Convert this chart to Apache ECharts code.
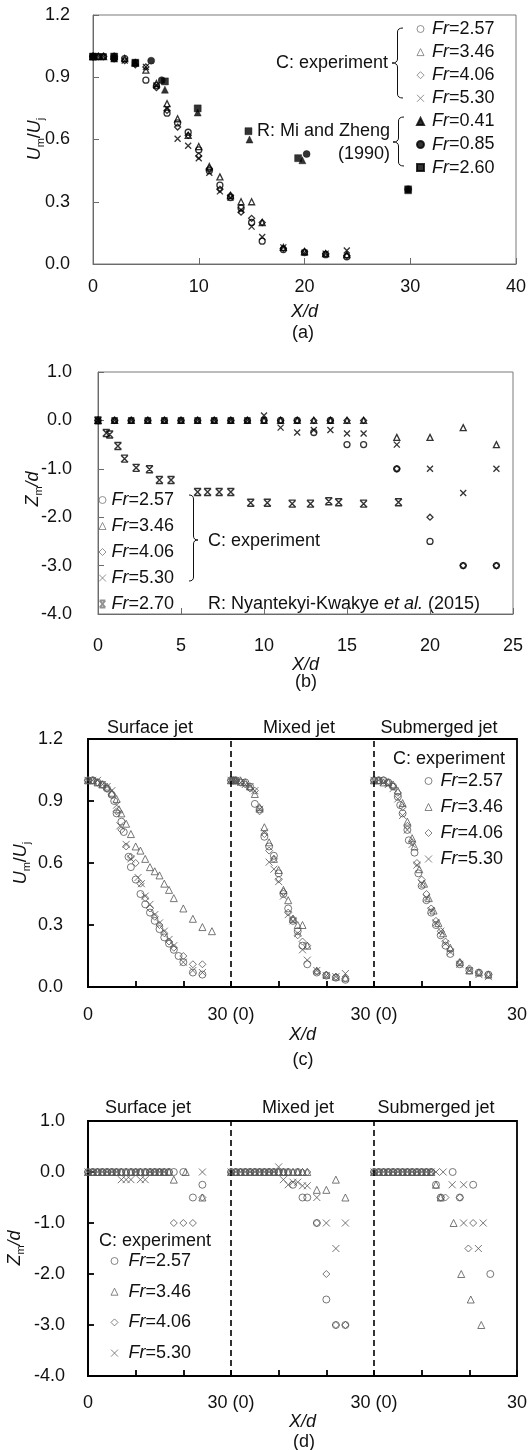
<!DOCTYPE html>
<html><head><meta charset="utf-8">
<script src="https://cdn.jsdelivr.net/npm/echarts@6/dist/echarts.min.js"></script>
<style>html,body{margin:0;padding:0;background:#fff}#c{width:532px;height:1450px}</style>
</head><body><div id="c"></div>
<script>
// ---------- Panel (a): Um/Uj vs X/d ----------
const aX   = [0,0.5,1,2,3,4,5,6,7,8,9,10,11,12,13,14,15,16,18,20,22,24];
const a257 = [1,1,1,0.99,0.99,0.97,0.886,0.86,0.727,0.68,0.635,0.55,0.45,0.38,0.32,0.27,0.20,0.11,0.07,0.055,0.045,0.035];
const a346 = [1,1,1,1,0.99,0.97,0.934,0.87,0.773,0.70,0.62,0.566,0.47,0.42,0.33,0.30,0.30,0.20,0.08,0.06,0.05,0.045];
const a406 = [1,1,1,0.99,0.98,0.96,0.95,0.85,0.74,0.66,0.62,0.52,0.46,0.36,0.33,0.25,0.22,0.20,0.075,0.06,0.05,0.04];
const a530 = [1,1,1,0.99,0.98,0.97,0.95,0.86,0.749,0.604,0.57,0.51,0.44,0.35,0.32,0.26,0.18,0.13,0.08,0.055,0.05,0.065];
const mzX041 = [0,2,4,6.8,9.9,14.8,19.8,29.8];
const mz041  = [1,0.99,0.97,0.84,0.73,0.60,0.50,0.355];
const mzX085 = [0,2,5.5,6.5,20.2,29.8];
const mz085  = [1,1,0.98,0.886,0.53,0.36];
const mzX260 = [0,2,4,6.8,9.9,14.7,19.4,29.8];
const mz260  = [1,1,0.97,0.88,0.75,0.64,0.51,0.36];
// ---------- Panel (b): Zm/d vs X/d ----------
const bX   = [0,1,2,3,4,5,6,7,8,9,10,11,12,13,14,15,16,18,20,22,24];
const b257 = [0,0,0,0,0,0,0,0,0,0,0,0,0,-0.25,0,-0.5,-0.5,-1.0,-2.5,-3.0,-3.0];
const b346 = [0,0,0,0,0,0,0,0,0,0,0,0,0,0,0,0,0,-0.35,-0.35,-0.15,-0.5];
const b406 = [0,0,0,0,0,0,0,0,0,0,0,0,0,0,0,0,0,-1.0,-2.0,-3.0,-3.0];
const b530 = [0,0,0,0,0,0,0,0,0,0,0.1,-0.15,-0.25,-0.2,-0.2,-0.27,-0.27,-0.5,-1.0,-1.5,-1.0];
const bRefX = [0,0.5,0.7,1.2,1.6,2.3,3.1,3.7,4.4,6.0,6.6,7.3,8.0,9.2,10.2,11.7,12.8,13.9,14.5,16.0,18.1];
const bRefZ = [0,-0.26,-0.29,-0.53,-0.79,-0.98,-1.01,-1.23,-1.23,-1.48,-1.48,-1.48,-1.48,-1.70,-1.70,-1.72,-1.72,-1.67,-1.69,-1.72,-1.69];
// ---------- Panel (c): Um/Uj, three jets ----------
const cSurfX257 = [0,1,2,3,4,5,5.5,6,7,7.5,8.5,9,10,11,12,13,14,15,16,17,18,19,20,22,24];
const cSurf257  = [1,1,0.99,0.98,0.96,0.93,0.90,0.84,0.80,0.75,0.63,0.58,0.52,0.45,0.40,0.36,0.32,0.28,0.24,0.21,0.18,0.15,0.12,0.07,0.06];
const cSurfX346 = [0,1,2,3,4,5,6,6.5,7,8,9,10,11,12,13,14,15,16,17,18,20,22,24,26];
const cSurf346  = [1,1,0.99,0.98,0.97,0.94,0.91,0.86,0.84,0.79,0.74,0.68,0.66,0.62,0.58,0.56,0.54,0.50,0.47,0.43,0.38,0.33,0.29,0.27];
const cSurfX406 = [0,1,2,3,4,5,6,7,8,9,10,11,12,13,14,15,16,17,18,20,22,24];
const cSurf406  = [1,1,0.99,0.98,0.96,0.93,0.85,0.76,0.68,0.63,0.60,0.50,0.43,0.38,0.34,0.30,0.26,0.22,0.19,0.15,0.11,0.11];
const cSurfX530 = [0,1,2,3,4,5,6,6.7,8,9,10.5,11.2,12,13,14,15,16,17,18,20,22,24];
const cSurf530  = [1,1,1,0.98,0.97,0.95,0.88,0.78,0.69,0.62,0.53,0.50,0.44,0.40,0.35,0.31,0.27,0.23,0.20,0.12,0.08,0.07];
const cSubX257 = [0,1,2,3,4,5,5.5,6,7,7.3,8.5,9.3,10,11,12,13,14,15,16,18,20,22,24];
const cSub257  = [1,1,1,0.99,0.97,0.92,0.88,0.84,0.76,0.71,0.65,0.55,0.49,0.42,0.36,0.30,0.25,0.20,0.16,0.11,0.08,0.07,0.06];
const cSubX346 = [0,1,2,3,4,5,6,7,8,8.5,9.5,10.5,11.5,12.5,13.5,14.5,16,18,20,22,24];
const cSub346  = [1,1,0.99,0.99,0.98,0.95,0.89,0.80,0.72,0.68,0.57,0.50,0.43,0.37,0.31,0.26,0.19,0.12,0.08,0.07,0.06];
const cSubX406 = [0,1,2,3,4,5,6,7,8,9,10,11,12,13,14,15,16,18,20,22,24];
const cSub406  = [1,1,1,0.99,0.97,0.94,0.87,0.78,0.70,0.60,0.52,0.45,0.38,0.32,0.27,0.22,0.18,0.12,0.09,0.07,0.06];
const cSubX530 = [0,1,2,3,4,5,6,7,8,9,10,11,12,13,14,15,16,18,20,22,24];
const cSub530  = [1,1,0.99,0.98,0.96,0.91,0.83,0.76,0.69,0.59,0.50,0.43,0.37,0.31,0.27,0.21,0.17,0.11,0.08,0.06,0.05];
// ---------- Panel (d): Zm/d, three jets ----------
const dSurfX257 = [0,1,2,3,4,5,6,7,8,9,10,11,12,13,14,15,16,17,18,20,22,24];
const dSurf257  = [0,0,0,0,0,0,0,0,0,0,0,0,0,0,0,0,0,0,0,0,-0.5,-0.25];
const dSurfX346 = [0,1,2,3,4,5,6,7,8,9,10,11,12,13,14,15,16,17,18,20.5,24];
const dSurf346  = [0,0,0,0,0,0,0,0,0,0,0,0,0,0,0,0,0,0,-0.15,0,-0.5];
const dSurfX406 = [0,1,2,3,4,5,6,7,8,9,10,11,12,13,14,15,16,17,18,20,22,24];
const dSurf406  = [0,0,0,0,0,0,0,0,0,0,0,0,0,0,0,0,0,0,-1,-1,-1,-0.5];
const dSurfX530 = [0,1,2,3,4,5,6,7,8,9,10,11,12,13,14,15,16,24];
const dSurf530  = [0,0,0,0,0,0,0,-0.15,-0.15,-0.15,0,-0.15,-0.15,0,0,0,0,0];
const dSubX257 = [0,1,2,3,4,5,6,7,8,9,10,11,12,13,14,16.5,18,20.8,24.4];
const dSub257  = [0,0,0,0,0,0,0,0,0,0,0,0,0,-0.25,-0.5,0,-0.5,-0.25,-2.0];
const dSubX346 = [0,1,2,3,4,5,6,7,8,9,10,11,12,13,14,16.7,18.3,20.3,22.5];
const dSub346  = [0,0,0,0,0,0,0,0,0,0,0,0,0,-0.25,-0.5,-1.0,-2.0,-2.5,-3.0];
const dSubX406 = [0,1,2,3,4,5,6,7,8,9,10,11,12,14,15,18,19.8,20.8];
const dSub406  = [0,0,0,0,0,0,0,0,0,0,0,0,0,-0.5,-0.5,-0.5,-1.5,-1.0];
const dSubX530 = [0,1,2,3,4,5,6,7,8,9,10,11,12,13,14.5,16.4,18.8,18.8,21.9,22.9];
const dSub530  = [0,0,0,0,0,0,0,0,0,0,0,0,0,0,0,-0.25,-0.25,-1.0,-1.5,-1.0];
// segment offsets for (c)/(d): surface, mixed, submerged
const segOffsets = [0,30,60];
const segBounds  = [30,60];
const cdTickVals = [0,30,60,90];
const cdTickText = ['0','30 (0)','30 (0)','30'];

const FONT = '"Liberation Sans", Arial, sans-serif';
const TXT = '#111';
const SYM = {
  c:'circle', t:'triangle', d:'diamond', r:'rect',
  x:'path://M0,0L10,10M10,0L0,10',
  h:'path://M1,0L9,0M1,10L9,10M1,0L9,10M9,0L1,10'
};
function pts(xs, ys, off){ return xs.map((x,i)=>[x+(off||0), ys[i]]); }
function sc(name, g, data, sym, o){
  o = o || {};
  const filled = !!o.filled;
  const col = o.color || '#000';
  return {
    type:'scatter', name:name, xAxisIndex:g, yAxisIndex:g, data:data,
    symbol:SYM[sym], symbolSize:o.size||6, silent:true,
    itemStyle: filled ? {color:col, borderColor:col, borderWidth:(sym==='x'||sym==='h')?1.4:0.5}
                      : {color:'rgba(255,255,255,0)', borderColor:col, borderWidth:o.bw||1.3},
    z: o.z || 2
  };
}
const titleRich = {
  i:{fontStyle:'italic', fontSize:18, fontFamily:FONT, fill:TXT, color:TXT, lineHeight:22},
  n:{fontSize:18, fontFamily:FONT, fill:TXT, color:TXT, lineHeight:22},
  s:{fontSize:11, fontFamily:FONT, fill:TXT, color:TXT, lineHeight:12, verticalAlign:'bottom'}
};
const nameU = '{i|U}{s|m}{n|/}{i|U}{s|j}';
const nameZ = '{i|Z}{s|m}{i|/d}';

function xAx(g, min, max, interval, margin, nameGap, frame, fmt){
  const c = frame.color, w = frame.width;
  const o = {gridIndex:g, type:'value', min:min, max:max, interval:interval,
    axisLine:{show:true, onZero:false, lineStyle:{color:c, width:w}},
    axisTick:{show:true, inside:true, length:6, lineStyle:{color:c, width:w}},
    axisLabel:{margin:margin, fontSize:18, fontFamily:FONT, color:TXT, showMinLabel:true, showMaxLabel:true},
    splitLine:{show:false},
    name:'X/d', nameLocation:'middle', nameGap:nameGap,
    nameTextStyle:{fontStyle:'italic', fontSize:18, fontFamily:FONT, color:TXT}};
  if (fmt) o.axisLabel.formatter = fmt;
  return o;
}
function yAx(g, min, max, interval, margin, frame){
  const c = frame.color, w = frame.width;
  return {gridIndex:g, type:'value', min:min, max:max, interval:interval,
    axisLine:{show:true, onZero:false, lineStyle:{color:c, width:w}},
    axisTick:{show:true, inside:true, length:6, lineStyle:{color:c, width:w}},
    axisLabel:{margin:margin, fontSize:18, fontFamily:FONT, color:TXT, formatter:v=>v.toFixed(1), showMinLabel:true, showMaxLabel:true},
    splitLine:{show:false}};
}
const frAB = {color:'#6b6b6b', width:1};
const frCD = {color:'#000', width:1.8};
const cdFmt = v => { const i = cdTickVals.indexOf(v); return i>=0 ? cdTickText[i] : ''; };

function legendRich(sp){
  return {sp:{width:sp, fontSize:18, lineHeight:20},
          i:{fontStyle:'italic', fontSize:18, fontFamily:FONT, color:TXT, lineHeight:20},
          n:{fontSize:18, fontFamily:FONT, color:TXT, lineHeight:20}};
}
const legFmt = n => '{sp| }{i|Fr}{n|' + n.slice(2) + '}';
function leg(left, top, gap, sp, items){
  return {orient:'vertical', left:left, top:top, itemGap:gap, itemWidth:7, itemHeight:7, padding:0,
    selectedMode:false, formatter:legFmt, textStyle:{rich:legendRich(sp)}, data:items};
}
const openGray = c => ({color:'rgba(255,255,255,0)', borderColor:c, borderWidth:1});

function brace(xTip, xEnd, y0, y1, yTip){
  const xm = (xTip+xEnd)/2, r = 4;
  const st = {stroke:TXT, fill:null, lineWidth:1};
  const bz = (x1,y1,x2,y2,cx,cy) => ({type:'bezierCurve', silent:true, shape:{x1:x1,y1:y1,x2:x2,y2:y2,cpx1:cx,cpy1:cy}, style:st});
  const ln = (x1,y1,x2,y2) => ({type:'line', silent:true, shape:{x1:x1,y1:y1,x2:x2,y2:y2}, style:st});
  return {type:'group', silent:true, children:[
    bz(xEnd,y0,xm,y0+r,xm,y0),
    ln(xm,y0+r,xm,yTip-r),
    bz(xm,yTip-r,xTip,yTip,xm,yTip),
    bz(xTip,yTip,xm,yTip+r,xm,yTip),
    ln(xm,yTip+r,xm,y1-r),
    bz(xm,y1-r,xEnd,y1,xm,y1)
  ]};
}
function txt(t, x, y, align, extra){
  return {type:'text', silent:true, style:Object.assign({text:t, x:x, y:y, fill:TXT, fontSize:18, fontFamily:FONT,
    align:align, textAlign:align, verticalAlign:'middle', textVerticalAlign:'middle'}, extra||{})};
}
function ytitle(t, x, y){
  return {type:'text', silent:true, x:x, y:y, rotation:Math.PI/2,
    style:{text:t, x:0, y:0, align:'center', textAlign:'center', verticalAlign:'middle', textVerticalAlign:'middle',
      fontSize:18, fontFamily:FONT, fill:TXT, rich:titleRich}};
}

const series = [];
// (a)
series.push(sc('Fr=2.57',0,pts(aX,a257),'c'));
series.push(sc('Fr=3.46',0,pts(aX,a346),'t'));
series.push(sc('Fr=4.06',0,pts(aX,a406),'d'));
series.push(sc('Fr=5.30',0,pts(aX,a530),'x'));
series.push(sc('Fr=0.41',0,pts(mzX041,mz041),'t',{filled:true,size:7}));
series.push(sc('Fr=0.85',0,pts(mzX085,mz085),'c',{filled:true,size:7}));
series.push(sc('Fr=2.60',0,pts(mzX260,mz260),'r',{filled:true,size:7}));
// (b)
series.push(sc('Fr=2.57',1,pts(bX,b257),'c'));
series.push(sc('Fr=3.46',1,pts(bX,b346),'t'));
series.push(sc('Fr=4.06',1,pts(bX,b406),'d'));
series.push(sc('Fr=5.30',1,pts(bX,b530),'x'));
series.push(sc('Fr=2.70',1,pts(bRefX,bRefZ),'h',{filled:true,size:7}));
// (c)
const G = {color:'#555', size:7, bw:1};
const cSets = [
  [[cSurfX257,cSurf257],[aX,a257],[cSubX257,cSub257],'Fr=2.57','c'],
  [[cSurfX346,cSurf346],[aX,a346],[cSubX346,cSub346],'Fr=3.46','t'],
  [[cSurfX406,cSurf406],[aX,a406],[cSubX406,cSub406],'Fr=4.06','d'],
  [[cSurfX530,cSurf530],[aX,a530],[cSubX530,cSub530],'Fr=5.30','x']
];
cSets.forEach(s => {
  [0,1,2].forEach(k => series.push(sc(s[3],2,pts(s[k][0],s[k][1],segOffsets[k]),s[4],G)));
});
const dSets = [
  [[dSurfX257,dSurf257],[bX,b257],[dSubX257,dSub257],'Fr=2.57','c'],
  [[dSurfX346,dSurf346],[bX,b346],[dSubX346,dSub346],'Fr=3.46','t'],
  [[dSurfX406,dSurf406],[bX,b406],[dSubX406,dSub406],'Fr=4.06','d'],
  [[dSurfX530,dSurf530],[bX,b530],[dSubX530,dSub530],'Fr=5.30','x']
];
dSets.forEach(s => {
  [0,1,2].forEach(k => series.push(sc(s[3],3,pts(s[k][0],s[k][1],segOffsets[k]),s[4],G)));
});
// dashed segment separators
[2,3].forEach(g => series.push({type:'scatter', name:'sep'+g, xAxisIndex:g, yAxisIndex:g, data:[], silent:true,
  markLine:{silent:true, symbol:'none', label:{show:false}, animation:false,
    lineStyle:{color:'#000', width:1.6, type:[6,4]}, data:segBounds.map(v=>({xAxis:v}))}}));

const option = {
  animation:false,
  grid:[
    {left:93, top:15, width:423, height:249, show:true, borderColor:'#7a7a7a', borderWidth:1},
    {left:98, top:372, width:415, height:242, show:true, borderColor:'#7a7a7a', borderWidth:1},
    {left:88, top:739, width:429, height:248, show:true, borderColor:'#000', borderWidth:1.8},
    {left:88, top:1121, width:429, height:255, show:true, borderColor:'#000', borderWidth:1.8}
  ],
  xAxis:[
    xAx(0,0,40,10,14,39,frAB),
    xAx(1,0,25,5,23,35,frAB),
    xAx(2,0,90,10,19,39,frCD,cdFmt),
    xAx(3,0,90,10,18,35,frCD,cdFmt)
  ],
  yAxis:[
    yAx(0,0,1.2,0.3,23,frAB),
    yAx(1,-4,1,1,26,frAB),
    yAx(2,0,1.2,0.3,25,frCD),
    yAx(3,-4,1,1,23,frCD)
  ],
  legend:[
    leg(416,20,5.1,3,[
      {name:'Fr=2.57',itemStyle:openGray('#777')},{name:'Fr=3.46',itemStyle:openGray('#777')},
      {name:'Fr=4.06',itemStyle:openGray('#777')},{name:'Fr=5.30',itemStyle:openGray('#777')},
      {name:'Fr=0.41',itemStyle:{color:'#000',borderColor:'#000'}},{name:'Fr=0.85',itemStyle:{color:'#000',borderColor:'#000'}},
      {name:'Fr=2.60',itemStyle:{color:'#000',borderColor:'#000'}}]),
    leg(98.5,491,8,0.5,[
      {name:'Fr=2.57',itemStyle:openGray('#777')},{name:'Fr=3.46',itemStyle:openGray('#777')},
      {name:'Fr=4.06',itemStyle:openGray('#777')},{name:'Fr=5.30',itemStyle:openGray('#777')},
      {name:'Fr=2.70',itemStyle:{color:'#777',borderColor:'#777'}}]),
    leg(424.5,772,8,3.5,[
      {name:'Fr=2.57',itemStyle:openGray('#666')},{name:'Fr=3.46',itemStyle:openGray('#666')},
      {name:'Fr=4.06',itemStyle:openGray('#666')},{name:'Fr=5.30',itemStyle:openGray('#666')}]),
    leg(110.5,1252,12.7,5.5,[
      {name:'Fr=2.57',itemStyle:openGray('#666')},{name:'Fr=3.46',itemStyle:openGray('#666')},
      {name:'Fr=4.06',itemStyle:openGray('#666')},{name:'Fr=5.30',itemStyle:openGray('#666')}])
  ],
  graphic:[
    // axis titles
    ytitle(nameU,35,139),
    ytitle(nameZ,33,489),
    ytitle(nameU,21,863),
    ytitle(nameZ,15,1248),
    // (a)
    txt('C: experiment',388,63,'right'),
    brace(392,403,28,98,63),
    txt('R: Mi and Zheng',390,131,'right'),
    txt('(1990)',390,154,'right'),
    brace(393,404,117,166,142),
    txt('(a)',303,333,'center'),
    // (b)
    brace(198,189,495,581,540),
    txt('C: experiment',208,541,'left'),
    {type:'text', silent:true, style:{text:'{n|R: Nyantekyi-Kwakye }{i|et al.}{n| (2015)}', x:208, y:604,
      align:'left', textAlign:'left', verticalAlign:'middle', textVerticalAlign:'middle',
      rich:{n:{fontSize:18,fontFamily:FONT,fill:TXT,color:TXT},i:{fontSize:18,fontFamily:FONT,fontStyle:'italic',fill:TXT,color:TXT}}}},
    txt('(b)',306,682,'center'),
    // (c)
    txt('Surface jet',150,728,'center'),
    txt('Mixed jet',299,728,'center'),
    txt('Submerged jet',439,728,'center'),
    txt('C: experiment',505,759,'right'),
    txt('(c)',303,1060,'center'),
    // (d)
    txt('Surface jet',148,1108,'center'),
    txt('Mixed jet',298,1108,'center'),
    txt('Submerged jet',436,1108,'center'),
    txt('C: experiment',99,1241,'left'),
    txt('(d)',304,1442,'center')
  ],
  series:series
};
const chart = echarts.init(document.getElementById('c'), null, {renderer:'canvas', width:532, height:1450});
chart.setOption(option);
</script></body></html>
